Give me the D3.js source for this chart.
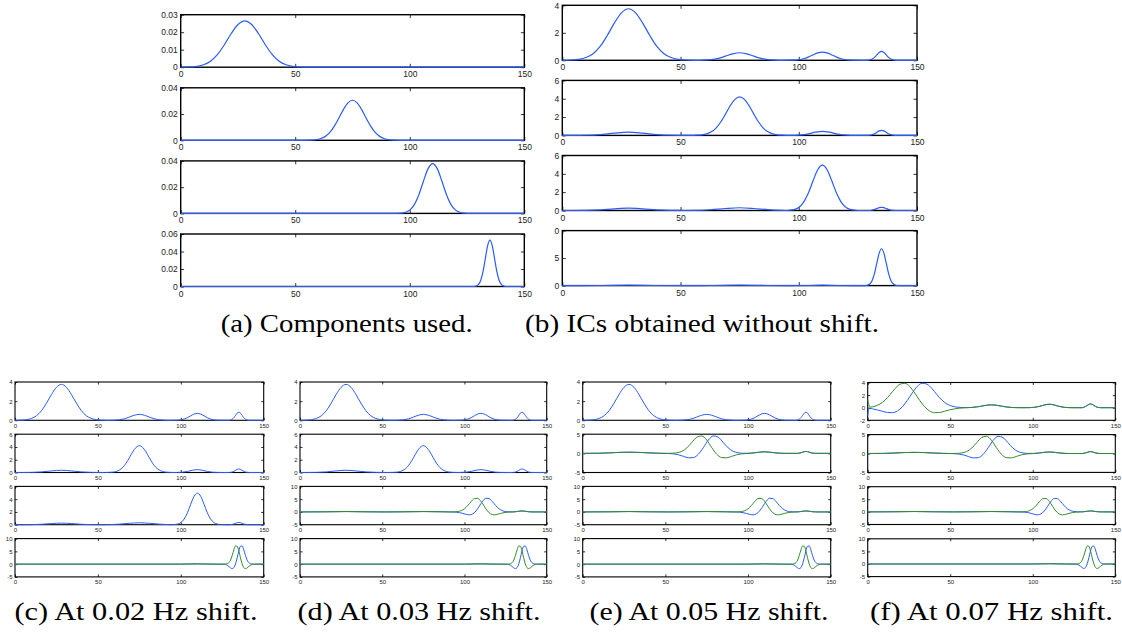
<!DOCTYPE html>
<html><head><meta charset="utf-8">
<script src="https://cdn.jsdelivr.net/npm/d3@7"></script>
<style>
body{margin:0;background:#fff}
svg{display:block}
.tick text{font-family:"Liberation Sans",Arial,Helvetica,sans-serif;fill:#222}
</style>
</head><body>
<svg id="chart" width="1122" height="633"></svg>
<script>
// ---------- data ----------
const xTicks = [0, 50, 100, 150];
const xDomain = [0, 150];

// (a) components
const compA1 = [[0,0],[4,0.0001],[7,0.0005],[10,0.0014],[13,0.0034],[16,0.0072],[19,0.0127],[22,0.0191],[25,0.0244],[28,0.0265],[31,0.0244],[34,0.0191],[37,0.0127],[40,0.0072],[43,0.0034],[46,0.0014],[49,0.0005],[52,0.0001],[56,0],[150,0]];
const compA2 = [[0,0],[54,0],[57,0.0001],[59,0.0004],[61,0.0012],[63,0.0028],[65,0.0058],[67,0.0106],[69,0.0168],[71,0.0234],[73,0.0285],[75,0.0305],[77,0.0285],[79,0.0234],[81,0.0168],[83,0.0106],[85,0.0058],[87,0.0028],[89,0.0012],[91,0.0004],[93,0.0001],[96,0],[150,0]];
const compA3 = [[0,0],[94,0],[96,0.0002],[98,0.0008],[100,0.0025],[102,0.0067],[104,0.0144],[106,0.0247],[108,0.0341],[110,0.038],[112,0.0341],[114,0.0247],[116,0.0144],[118,0.0067],[120,0.0025],[122,0.0008],[124,0.0002],[126,0],[150,0]];
const compA4 = [[0,0],[128,0],[129,0.0006],[130,0.0023],[131,0.0072],[132,0.0172],[133,0.0322],[134,0.0468],[135,0.053],[136,0.0468],[137,0.0322],[138,0.0172],[139,0.0072],[140,0.0023],[141,0.0006],[142,0],[150,0]];

// (b) ICs without shift
const icB1 = [[0,0],[4,0.02],[7,0.07],[10,0.2],[13,0.48],[16,1.01],[19,1.8],[22,2.7],[25,3.45],[28,3.75],[31,3.45],[34,2.7],[37,1.8],[40,1.01],[43,0.48],[46,0.2],[49,0.07],[52,0.02],[56,0],[60,0.013],[63,0.05],[66,0.14],[69,0.3],[72,0.47],[75,0.55],[78,0.47],[81,0.3],[84,0.14],[87,0.05],[90,0.013],[93,0],[98,0.01],[100,0.04],[102,0.11],[104,0.23],[106,0.39],[108,0.54],[110,0.6],[112,0.54],[114,0.39],[116,0.23],[118,0.11],[120,0.04],[122,0.01],[129,0],[130,0.03],[131,0.09],[132,0.21],[133,0.39],[134,0.57],[135,0.65],[136,0.57],[137,0.39],[138,0.21],[139,0.09],[140,0.03],[141,0],[150,0]];
const icB2 = [[0,0],[4,0],[10,0.018],[16,0.095],[22,0.25],[28,0.35],[34,0.25],[40,0.095],[46,0.018],[52,0],[54,0],[57,0.02],[59,0.06],[61,0.16],[63,0.39],[65,0.8],[67,1.46],[69,2.32],[71,3.23],[73,3.93],[75,4.2],[77,3.93],[79,3.23],[81,2.32],[83,1.46],[85,0.8],[87,0.39],[89,0.16],[91,0.06],[93,0.02],[96,0],[98,0.01],[101,0.05],[104,0.17],[107,0.35],[110,0.45],[113,0.35],[116,0.17],[119,0.05],[122,0.01],[125,0],[129,0],[130,0.02],[131,0.07],[132,0.18],[133,0.33],[134,0.49],[135,0.55],[136,0.49],[137,0.33],[138,0.18],[139,0.07],[140,0.02],[141,0],[150,0]];
const icB3 = [[0,0],[4,0],[10,0.013],[16,0.068],[22,0.18],[28,0.25],[34,0.18],[40,0.068],[46,0.013],[52,0],[57,0.01],[63,0.09],[69,0.22],[75,0.3],[81,0.22],[87,0.09],[93,0.01],[94,0],[96,0.025],[98,0.1],[100,0.33],[102,0.88],[104,1.87],[106,3.21],[108,4.45],[110,4.95],[112,4.45],[114,3.21],[116,1.87],[118,0.88],[120,0.33],[122,0.1],[124,0.025],[126,0],[130,0],[131,0.05],[132,0.11],[133,0.21],[134,0.31],[135,0.35],[136,0.31],[137,0.21],[138,0.11],[139,0.05],[140,0.01],[141,0],[150,0]];
const icB4 = [[0,0],[16,0.02],[28,0.08],[40,0.02],[52,0],[63,0.02],[75,0.08],[87,0.02],[96,0],[104,0.02],[110,0.08],[116,0.02],[124,0],[128,0],[129,0.07],[130,0.29],[131,0.9],[132,2.18],[133,4.07],[134,5.91],[135,6.7],[136,5.91],[137,4.07],[138,2.18],[139,0.9],[140,0.29],[141,0.07],[142,0],[150,0]];

// (c)-(e) first IC with shift
const icShift1 = [[0,0],[4,0.02],[7,0.07],[10,0.2],[13,0.48],[16,1.01],[19,1.8],[22,2.7],[25,3.45],[28,3.75],[31,3.45],[34,2.7],[37,1.8],[40,1.01],[43,0.48],[46,0.2],[49,0.07],[52,0.02],[56,0],[60,0.015],[63,0.06],[66,0.16],[69,0.34],[72,0.53],[75,0.62],[78,0.53],[81,0.34],[84,0.16],[87,0.06],[90,0.015],[93,0],[98,0.015],[100,0.05],[102,0.13],[104,0.27],[106,0.47],[108,0.65],[110,0.72],[112,0.65],[114,0.47],[116,0.27],[118,0.13],[120,0.05],[122,0.015],[129,0],[130,0.04],[131,0.11],[132,0.27],[133,0.51],[134,0.74],[135,0.84],[136,0.74],[137,0.51],[138,0.27],[139,0.11],[140,0.04],[141,0],[150,0]];

// split pairs (blue / green)
const pair1Blue = [[0,-1.2],[1,-0.1],[3,-0.19],[6,-0.36],[9,-0.57],[12,-0.76],[15,-0.79],[18,-0.52],[21,0.14],[24,1.16],[27,2.34],[30,3.36],[33,3.88],[36,3.72],[39,3.01],[42,2.06],[45,1.19],[48,0.59],[51,0.25],[54,0.09],[57,0.03],[60,0.01],[63,0.04],[66,0.12],[69,0.25],[72,0.39],[75,0.45],[78,0.39],[81,0.25],[84,0.12],[87,0.04],[90,0.01],[94,0],[98,0.01],[101,0.06],[104,0.21],[107,0.43],[110,0.55],[113,0.43],[116,0.21],[119,0.06],[122,0.01],[125,0],[130,0],[131,0.08],[132,0.2],[133,0.36],[134,0.53],[135,0.6],[136,0.53],[137,0.36],[138,0.2],[139,0.08],[140,0.03],[141,0],[150,0]];
const pair1Green = [[0,1.3],[1.5,0.09],[4.5,0.25],[7.5,0.59],[10.5,1.19],[13.5,2.06],[16.5,3.01],[19.5,3.72],[22.5,3.88],[25.5,3.36],[28.5,2.34],[31.5,1.16],[34.5,0.14],[37.5,-0.52],[40.5,-0.79],[43.5,-0.76],[46.5,-0.57],[49.5,-0.36],[52.5,-0.19],[55.5,-0.08],[58.5,-0.02],[63,0.04],[66,0.12],[69,0.25],[72,0.39],[75,0.45],[78,0.39],[81,0.25],[84,0.12],[87,0.04],[90,0.01],[94,0],[98,0.01],[101,0.06],[104,0.21],[107,0.43],[110,0.55],[113,0.43],[116,0.21],[119,0.06],[122,0.01],[125,0],[130,0],[131,0.08],[132,0.2],[133,0.36],[134,0.53],[135,0.6],[136,0.53],[137,0.36],[138,0.2],[139,0.08],[140,0.03],[141,0],[150,0]];

const pair2Blue = [[0,0],[10,0.03],[16,0.12],[22,0.25],[28,0.3],[34,0.25],[40,0.12],[46,0.03],[52,-0.04],[55,-0.14],[58,-0.38],[61,-0.79],[64,-1.17],[67,-1.1],[70,-0.2],[73,1.53],[76,3.47],[79,4.55],[82,4.21],[85,2.85],[88,1.43],[91,0.53],[94,0.15],[97,0.03],[100,0.02],[104,0.15],[107,0.31],[110,0.4],[113,0.31],[116,0.15],[119,0.04],[122,0],[130,0],[131,0.07],[132,0.16],[133,0.3],[134,0.44],[135,0.5],[136,0.44],[137,0.3],[138,0.16],[139,0.07],[140,0.02],[141,0],[150,0]];
const pair2Green = [[0,0],[10,0.03],[16,0.12],[22,0.25],[28,0.3],[34,0.25],[40,0.12],[46,0.03],[51,0],[54,0.03],[57,0.15],[60,0.53],[63,1.43],[66,2.85],[69,4.21],[72,4.55],[75,3.47],[78,1.53],[81,-0.2],[84,-1.1],[87,-1.17],[90,-0.79],[93,-0.38],[96,-0.14],[99,-0.04],[102,0.04],[104,0.15],[107,0.31],[110,0.4],[113,0.31],[116,0.15],[119,0.04],[122,0],[130,0],[131,0.07],[132,0.16],[133,0.3],[134,0.44],[135,0.5],[136,0.44],[137,0.3],[138,0.16],[139,0.07],[140,0.02],[141,0],[150,0]];

const pair3Blue = [[0,0],[16,0.05],[28,0.15],[40,0.05],[52,0],[63,0.05],[75,0.15],[87,0.05],[91,0],[93,-0.03],[95,-0.11],[97,-0.28],[99,-0.58],[101,-0.96],[103,-1.15],[105,-0.79],[107,0.37],[109,2.24],[111,4.19],[113,5.35],[115,5.23],[117,4.04],[119,2.49],[121,1.24],[123,0.49],[125,0.16],[127,0.04],[129,0.02],[131,0.08],[133,0.26],[135,0.4],[137,0.26],[139,0.08],[141,0.01],[143,0],[150,0]];
const pair3Green = [[0,0],[16,0.05],[28,0.15],[40,0.05],[52,0],[63,0.05],[75,0.15],[87,0.05],[90,0],[92,0.01],[94,0.04],[96,0.16],[98,0.49],[100,1.24],[102,2.49],[104,4.04],[106,5.23],[108,5.35],[110,4.19],[112,2.24],[114,0.37],[116,-0.79],[118,-1.15],[120,-0.96],[122,-0.58],[124,-0.28],[126,-0.11],[128,-0.03],[130,0.02],[131,0.08],[133,0.26],[135,0.4],[137,0.26],[139,0.08],[141,0.01],[143,0],[150,0]];

const pair4Blue = [[0,0],[100,0],[110,0.1],[120,0],[126,-0.05],[127,-0.16],[128,-0.43],[129,-0.91],[130,-1.47],[131,-1.77],[132,-1.35],[133,0.09],[134,2.47],[135,5.16],[136,7.01],[137,7.12],[138,5.58],[139,3.39],[140,1.6],[141,0.59],[142,0.17],[143,0.04],[144,0],[150,0]];
const pair4Green = [[0,0],[100,0],[110,0.1],[120,0],[126,0],[127,0.04],[128,0.17],[129,0.59],[130,1.6],[131,3.39],[132,5.58],[133,7.12],[134,7.01],[135,5.16],[136,2.47],[137,0.09],[138,-1.35],[139,-1.77],[140,-1.47],[141,-0.91],[142,-0.43],[143,-0.16],[144,-0.05],[145,0],[150,0]];

// y tick labels
const yTicksA1 = [0, 0.01, 0.02, 0.03];
const yTicksA2 = [0, 0.02, 0.04];
const yTicksA4 = [0, 0.02, 0.04, 0.06];
const yTicks04 = [0, 2, 4];
const yTicks06 = [0, 2, 4, 6];
const yTicks010 = [0, 5, 10];
const yTicksM5_10 = [-5, 0, 5, 10];
const yTicksM5_5 = [-5, 0, 5];
const yTicksM2_4 = [-2, 0, 2, 4];

const captions = ["(a) Components used.", "(b) ICs obtained without shift.",
  "(c) At 0.02 Hz shift.", "(d) At 0.03 Hz shift.", "(e) At 0.05 Hz shift.", "(f) At 0.07 Hz shift."];

// ---------- layout ----------
const BLUE = "#2a5cf5", GREEN = "#348a2c";
const svg = d3.select("#chart");
svg.append("defs").append("clipPath").attr("id","clipB")
  .append("rect").attr("x",554).attr("y",0).attr("width",568).attr("height",320);

const groups = [
  {x0:180.7, w:343.6, top:14.7, step:73.1, h:52.5, fs:8.5, tick:3.4, pad:3, xlab:10, lw:1.2, fw:1.4,
   rows:[[[compA1,BLUE]],[[compA2,BLUE]],[[compA3,BLUE]],[[compA4,BLUE]]],
   yd:[[0,0.03],[0,0.04],[0,0.04],[0,0.06]], yt:[yTicksA1,yTicksA2,yTicksA2,yTicksA4]},
  {x0:562.3, w:354.7, top:5.3, step:75.1, h:55, fs:8.5, tick:3.5, pad:3, xlab:10, lw:1.2, fw:1.4, clip:"url(#clipB)",
   rows:[[[icB1,BLUE]],[[icB2,BLUE]],[[icB3,BLUE]],[[icB4,BLUE]]],
   yd:[[0,4],[0,6],[0,6],[0,10]], yt:[yTicks04,yTicks06,yTicks06,yTicks010]},
  {x0:15, w:248.7, top:382, step:52.2, h:38.3, fs:6, tick:2.5, pad:2.5, xlab:7.5, lw:1.0, fw:1.1,
   rows:[[[icShift1,BLUE]],[[icB2,BLUE]],[[icB3,BLUE]],[[pair4Blue,BLUE],[pair4Green,GREEN]]],
   yd:[[0,4],[0,6],[0,6],[-5,10]], yt:[yTicks04,yTicks06,yTicks06,yTicksM5_10]},
  {x0:300, w:246.7, top:382, step:52.2, h:38.3, fs:6, tick:2.5, pad:2.5, xlab:7.5, lw:1.0, fw:1.1,
   rows:[[[icShift1,BLUE]],[[icB2,BLUE]],[[pair3Blue,BLUE],[pair3Green,GREEN]],[[pair4Blue,BLUE],[pair4Green,GREEN]]],
   yd:[[0,4],[0,6],[-5,10],[-5,10]], yt:[yTicks04,yTicks06,yTicksM5_10,yTicksM5_10]},
  {x0:582.7, w:248, top:382, step:52.2, h:38.3, fs:6, tick:2.5, pad:2.5, xlab:7.5, lw:1.0, fw:1.1,
   rows:[[[icShift1,BLUE]],[[pair2Blue,BLUE],[pair2Green,GREEN]],[[pair3Blue,BLUE],[pair3Green,GREEN]],[[pair4Blue,BLUE],[pair4Green,GREEN]]],
   yd:[[0,4],[-5,5],[-5,10],[-5,10]], yt:[yTicks04,yTicksM5_5,yTicksM5_10,yTicksM5_10]},
  {x0:867.7, w:247.6, top:382.5, step:52.1, h:37.8, fs:6, tick:2.5, pad:2.5, xlab:7.5, lw:1.0, fw:1.1,
   rows:[[[pair1Blue,BLUE],[pair1Green,GREEN]],[[pair2Blue,BLUE],[pair2Green,GREEN]],[[pair3Blue,BLUE],[pair3Green,GREEN]],[[pair4Blue,BLUE],[pair4Green,GREEN]]],
   yd:[[-2,4],[-5,5],[-5,10],[-5,10]], yt:[yTicksM2_4,yTicksM5_5,yTicksM5_10,yTicksM5_10]}
];

groups.forEach(G => {
  const gg = svg.append("g");
  if (G.clip) gg.attr("clip-path", G.clip);
  G.rows.forEach((lines, r) => {
    const top = G.top + r * G.step;
    const x = d3.scaleLinear().domain(xDomain).range([0, G.w]);
    const y = d3.scaleLinear().domain(G.yd[r]).range([G.h, 0]);
    const p = gg.append("g").attr("transform", `translate(${G.x0},${top})`);
    const fmt = v => String(v);
    const styleAxis = a => {
      a.select(".domain").remove();
      a.selectAll(".tick line").attr("stroke", "#000").attr("stroke-width", 0.8);
      a.selectAll(".tick text").style("font-size", G.fs + "px");
    };
    p.append("g").attr("transform", `translate(0,${G.h})`)
      .call(d3.axisBottom(x).tickValues(xTicks).tickFormat(fmt).tickSizeInner(-G.tick).tickSizeOuter(0).tickPadding(G.xlab - 0.71 * G.fs))
      .call(styleAxis);
    p.append("g")
      .call(d3.axisTop(x).tickValues(xTicks).tickFormat("").tickSizeInner(-G.tick).tickSizeOuter(0))
      .call(styleAxis);
    p.append("g")
      .call(d3.axisLeft(y).tickValues(G.yt[r]).tickFormat(fmt).tickSizeInner(-G.tick).tickSizeOuter(0).tickPadding(G.pad))
      .call(styleAxis);
    p.append("g").attr("transform", `translate(${G.w},0)`)
      .call(d3.axisRight(y).tickValues(G.yt[r]).tickFormat("").tickSizeInner(-G.tick).tickSizeOuter(0))
      .call(styleAxis);
    p.append("rect").attr("x", 0).attr("y", 0).attr("width", G.w).attr("height", G.h)
      .attr("fill", "none").attr("stroke", "#000").attr("stroke-width", G.fw);
    const line = d3.line().x(d => x(d[0])).y(d => y(d[1])).curve(d3.curveMonotoneX);
    lines.forEach(([data, col]) => {
      p.append("path").datum(data).attr("d", line)
        .attr("fill", "none").attr("stroke", col).attr("stroke-width", G.lw)
        .attr("stroke-linejoin", "round");
    });
  });
});

// ---------- captions ----------
const capPos = [
  {cx:346.7, y:332, len:252, fs:25},
  {cx:702, y:332, len:354, fs:25},
  {cx:136, y:620, len:243, fs:25},
  {cx:419, y:620, len:243, fs:25},
  {cx:709, y:620, len:239, fs:25},
  {cx:991.5, y:620, len:243, fs:25}
];
captions.forEach((t, i) => {
  const c = capPos[i];
  svg.append("text").attr("x", c.cx).attr("y", c.y)
    .attr("text-anchor", "middle")
    .style("font-family", "'Liberation Serif', 'DejaVu Serif', serif")
    .style("font-size", c.fs + "px").style("fill", "#000")
    .attr("textLength", c.len).attr("lengthAdjust", "spacingAndGlyphs").text(t);
});
</script>
</body></html>
